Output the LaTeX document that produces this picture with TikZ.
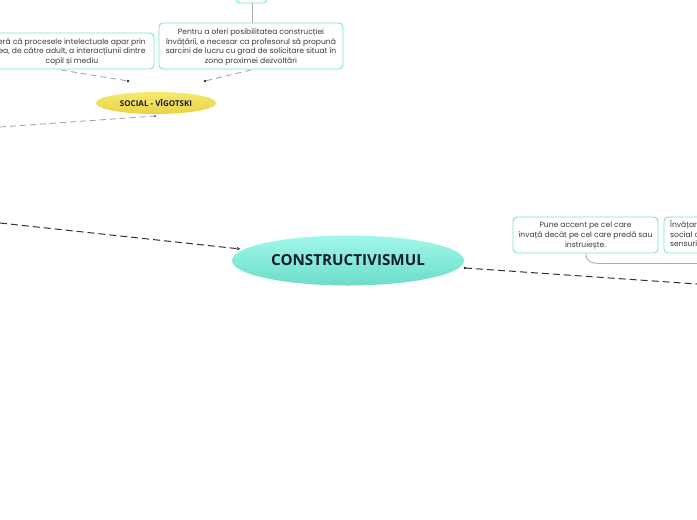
\documentclass[tikz,border=0pt]{standalone}
\usepackage{fontspec}
\setmainfont{Poppins}
\newfontfamily\titlefont{Open Sans}
\usetikzlibrary{shapes.geometric,arrows.meta}
\definecolor{tealb}{RGB}{120,228,212}
\definecolor{txt}{RGB}{60,60,60}
\definecolor{navy}{RGB}{20,28,50}
\definecolor{yelA}{RGB}{248,232,110}
\definecolor{yelB}{RGB}{232,210,70}
\definecolor{tealA}{RGB}{160,248,234}
\definecolor{tealC}{RGB}{108,220,200}
\tikzset{
  x=1pt,y=-1pt,
  infobox/.style={draw=tealb,line width=0.9pt,rounded corners=4pt,fill=white},
  boxtext/.style={font=\fontsize{7.6}{9.7}\selectfont,text=txt,align=center,inner sep=0pt},
  sidetext/.style={font=\fontsize{7.6}{9.7}\selectfont,text=txt,align=left,inner sep=0pt,anchor=north west},
  dgray/.style={draw=gray!75,line width=0.8pt,dash pattern=on 6pt off 4pt},
  dblack/.style={draw=black!80,line width=1pt,dash pattern=on 7pt off 4pt},
  enddot/.style={circle,fill=black!85,inner sep=0pt,minimum size=2.6pt},
  solidlink/.style={draw=gray!65,line width=1pt},
}
\begin{document}
\begin{tikzpicture}
\useasboundingbox (0,0) rectangle (697,520);
\clip (0,0) rectangle (697,520);
\fill[white] (0,0) rectangle (697,520);

% top small box
\draw[infobox] (236,-12) rectangle (267,3);
\coordinate (topb) at (252,3);
% box Pentru
\draw[infobox] (159,23) rectangle (343,69);
\coordinate (pt) at (252,23);
\node[boxtext] (pentru) at (251,47) {Pentru a oferi posibilitatea construcției\\învățării, e necesar ca profesorul să propună\\sarcini de lucru cu grad de solicitare situat în\\zona proximei dezvoltări};
\draw[solidlink] (topb) -- (pt);

% left box
\draw[infobox] (-12,33) rectangle (154,69);
\node[boxtext] (leftt) at (72,52) {eră că procesele intelectuale apar prin\\ea, de către adult, a interacțiunii dintre\\copil și mediu};

% SOCIAL ellipse
\node[ellipse,minimum width=120pt,minimum height=22pt,inner sep=0pt,
  top color=yelA,bottom color=yelB,draw=none,
  font=\titlefont\fontsize{8}{9}\selectfont\bfseries,text=navy] (soc) at (156,103) {SOCIAL - VĪGOTSKI};

\coordinate (lb) at (61,70);
\coordinate (pb) at (251,70);
\node[enddot] (d1) at (128,81) {};
\node[enddot] (d2) at (205,81) {};
\draw[dgray] (lb) -- (d1.center);
\draw[dgray] (pb) -- (d2.center);

\coordinate (l1) at (0,127);
\node[enddot,minimum size=2pt] (d3) at (155,116) {};
\draw[dgray] (l1) -- (d3.center);

% main ellipse
\node[ellipse,minimum width=232pt,minimum height=50pt,inner sep=0pt,
  top color=tealA,bottom color=tealC,draw=none,
  font=\titlefont\fontsize{15.2}{17}\selectfont\bfseries,text=navy] (main) at (348,260.5) {CONSTRUCTIVISMUL};

\coordinate (l2) at (0,223);
\draw[dblack,-{Stealth[length=4pt,width=3.5pt]}] (l2) -- (240.5,249);
\node[enddot] (d4) at (465,268) {};
\coordinate (r2) at (697,284);
\draw[dblack] (d4.center) -- (r2);

% right boxes
\draw[infobox] (513,217) rectangle (658,253);
\node[boxtext] (pune) at (585.5,235.5) {Pune accent pe cel care\\învață decât pe cel care predă sau\\instruiește.};
\draw[infobox] (664,217) rectangle (790,253);
\node[sidetext] (inv) at (670,220.5) {Învățar\\social c\\sensuri};

\coordinate (pb2) at (586,253.5);
\coordinate (rr) at (697,263.5);
\draw[solidlink,line width=0.9pt] (pb2) .. controls (586,262) and (590,263.5) .. (605,263.5) -- (rr);
\end{tikzpicture}
\end{document}
